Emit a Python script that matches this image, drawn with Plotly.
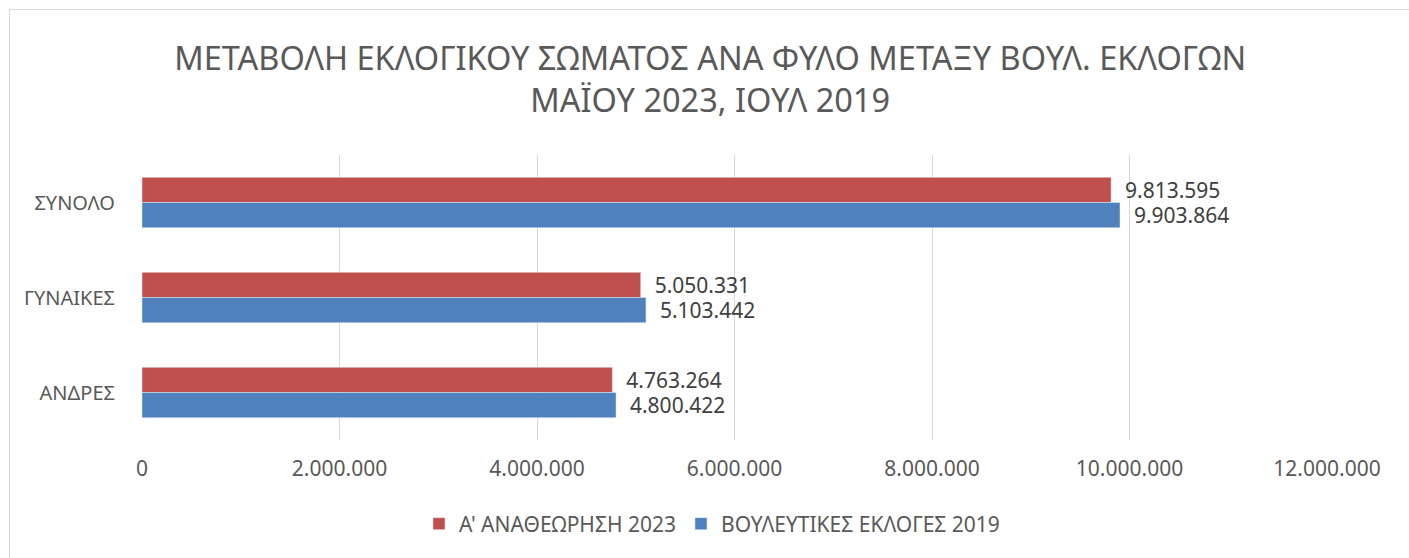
import plotly.graph_objects as go

categories = ["ΣΥΝΟΛΟ", "ΓΥΝΑΙΚΕΣ", "ΑΝΔΡΕΣ"]
series_2023 = [9813595, 5050331, 4763264]
series_2019 = [9903864, 5103442, 4800422]
name_2023 = "Α' ΑΝΑΘΕΩΡΗΣΗ 2023"
name_2019 = "ΒΟΥΛΕΥΤΙΚΕΣ ΕΚΛΟΓΕΣ 2019"
tick_values = [0, 2000000, 4000000, 6000000, 8000000, 10000000, 12000000]
title_lines = ["ΜΕΤΑΒΟΛΗ ΕΚΛΟΓΙΚΟΥ ΣΩΜΑΤΟΣ ΑΝΑ ΦΥΛΟ ΜΕΤΑΞΥ ΒΟΥΛ. ΕΚΛΟΓΩΝ",
               "ΜΑΪΟΥ 2023, ΙΟΥΛ 2019"]

FONT = "Noto Sans"
LBL = 21
W, H = 1409, 558
ML, MR, MT, MB = 142, 82, 155, 118

fig = go.Figure()
fig.add_trace(go.Bar(
    y=categories, x=series_2023, name=name_2023, orientation="h",
    marker=dict(color="#C0504D"),
    texttemplate="\u00a0\u00a0%{x:,}", textposition="outside", cliponaxis=False,
    constraintext="none",
    textfont=dict(family=FONT, size=LBL, color="#404040"),
))
fig.add_trace(go.Bar(
    y=categories, x=series_2019, name=name_2019, orientation="h",
    marker=dict(color="#4F81BD"),
    texttemplate="\u00a0\u00a0%{x:,}", textposition="outside", cliponaxis=False,
    constraintext="none",
    textfont=dict(family=FONT, size=LBL, color="#404040"),
))

pw = W - ML - MR
ph = H - MT - MB
fig.update_layout(
    width=W, height=H,
    margin=dict(l=ML, r=MR, t=MT, b=MB, pad=0),
    separators=",.",
    paper_bgcolor="white", plot_bgcolor="white",
    barmode="group", bargap=0.47, bargroupgap=0,
    title=dict(text="<br>".join(title_lines), x=0.504, xanchor="center",
               y=1 - 70 / H, yanchor="middle",
               font=dict(family=FONT, size=32.5, color="#595959")),
    font=dict(family=FONT, size=LBL, color="#595959"),
    xaxis=dict(range=[0, 12000000], tickvals=tick_values, tickformat=",d",
               showgrid=True, gridcolor="#D9D9D9", gridwidth=1,
               zeroline=False, showline=False, ticks="outside", ticklen=10,
               tickcolor="rgba(0,0,0,0)",
               tickfont=dict(family=FONT, size=LBL, color="#595959")),
    yaxis=dict(autorange="reversed", showgrid=False, zeroline=False,
               showline=False, ticks="outside", ticklen=22, tickcolor="rgba(0,0,0,0)",
               tickfont=dict(family=FONT, size=20, color="#595959")),
    legend=dict(orientation="h", x=0.481, xanchor="center",
                y=-(524 - (H - MB)) / ph, yanchor="middle",
                font=dict(family=FONT, size=LBL, color="#595959"),
                traceorder="normal"),
    shapes=[dict(type="rect", xref="paper", yref="paper",
                 x0=(9.5 - ML) / pw, x1=(W + 20 - ML) / pw,
                 y0=-(H + 20 - (H - MB)) / ph, y1=((H - MB) - 9.5) / ph,
                 line=dict(color="#D9D9D9", width=1), layer="below")],
)
fig.write_html("out.html", config={"displayModeBar": False},
               post_script="document.body.style.margin='0';document.body.style.overflow='hidden';")
